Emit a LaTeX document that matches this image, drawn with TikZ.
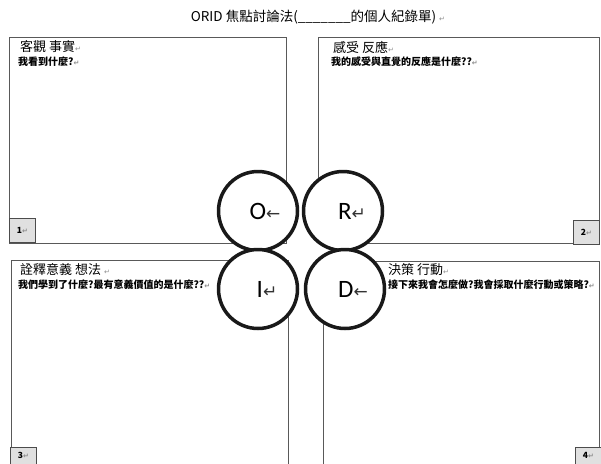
\documentclass[tikz,border=0pt]{standalone}
\usepackage{fontspec}
\newfontfamily\cjk{Noto Sans CJK TC}
\newfontfamily\symf{DejaVu Sans}
\newfontfamily\latf{Carlito}
\newcommand\parmk{{\symf\color{black!45}\fontsize{7}{7}\selectfont ↵}}
\newcommand\arrL{{\symf\fontsize{17}{17}\selectfont\color{black!80}←}}
\newcommand\arrR{{\symf\fontsize{17}{17}\selectfont\color{black!80}↵}}
\begin{document}
\begin{tikzpicture}[x=1pt,y=-1pt,
  frame/.style={draw=black!65, line width=0.8pt},
  numbox/.style={draw=black!70, fill=black!12, line width=0.7pt, minimum width=26pt, minimum height=24pt, inner sep=0pt, font=\cjk\bfseries\fontsize{8.5}{8.5}\selectfont},
  ring/.style={circle, draw=black!90, line width=3.5pt, fill=white, minimum size=79pt, inner sep=0pt},
  letter/.style={font=\latf\fontsize{25}{25}\selectfont, inner sep=0pt},
  head/.style={anchor=west, inner sep=0pt, font=\cjk\fontsize{13}{13}\selectfont},
  sub/.style={anchor=west, inner sep=0pt, font=\cjk\bfseries\fontsize{10}{10}\selectfont},
  ttl/.style={inner sep=0pt, font=\cjk\fontsize{13.5}{13.5}\selectfont}
]
\useasboundingbox (0,0) rectangle (601,463);
\fill[white] (0,0) rectangle (601,463);
% title
\node[ttl] (title) at (318,17) {ORID 焦點討論法(\_\_\_\_\_\_\_的個人紀錄單) \parmk};
% boxes
\node[frame, anchor=north west, minimum width=277pt, minimum height=206pt, inner sep=0pt] (tl) at (9,37) {};
\node[frame, anchor=north west, minimum width=281pt, minimum height=206pt, inner sep=0pt] (tr) at (318,37) {};
\draw[frame] (11,464) -- (11,260) -- (288,260) -- (288,464);
\draw[frame] (323,464) -- (323,261) -- (599,261) -- (599,464);
% number tags
\node[numbox, anchor=north west] (n1) at (9,218) {1\parmk};
\node[numbox, anchor=north west] (n2) at (573,220) {2\parmk};
\node[numbox, anchor=north west, minimum height=17pt] (n3) at (10,447) {3\parmk};
\node[numbox, anchor=north west, minimum height=17pt] (n4) at (575,447) {4\parmk};
% texts
\node[head] (h1) at (20,47) {客觀 事實\parmk};
\node[sub] (s1) at (18,62) {我看到什麼?\parmk};
\node[head] (h2) at (333,47) {感受 反應\parmk};
\node[sub] (s2) at (331,62) {我的感受與直覺的反應是什麼??\parmk};
\node[head] (h3) at (20,270) {詮釋意義 想法 \parmk};
\node[sub] (s3) at (18,285) {我們學到了什麼?最有意義價值的是什麼??\parmk};
\node[head] (h4) at (388,270) {決策 行動\parmk};
\node[sub] (s4) at (388,285) {接下來我會怎麼做?我會採取什麼行動或策略?\parmk};
% circles
\node[ring] (O) at (258,211) {};
\node[ring] (R) at (343,211) {};
\node[ring] (I) at (258,289) {};
\node[ring] (D) at (345,289) {};
\node[letter] (Ot) at ([xshift=7pt]O.center) {O\arrL};
\node[letter] (Rt) at ([xshift=9pt]R.center) {R\arrR};
\node[letter] (It) at ([xshift=9pt]I.center) {I\arrR};
\node[letter] (Dt) at ([xshift=8pt]D.center) {D\arrL};
\end{tikzpicture}
\end{document}
